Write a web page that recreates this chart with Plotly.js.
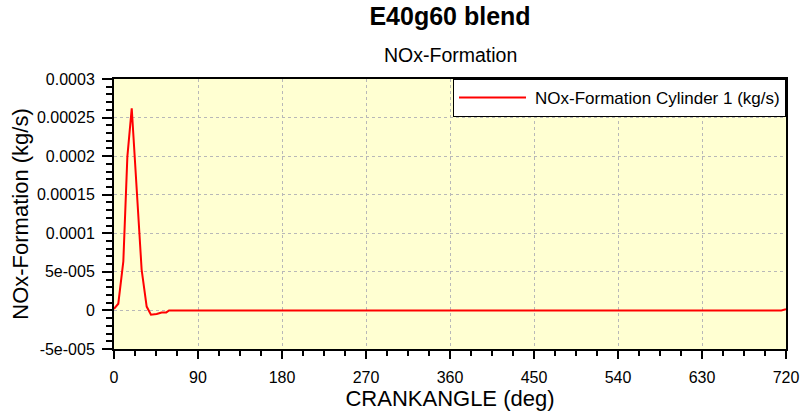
<!DOCTYPE html>
<html>
<head>
<meta charset="utf-8">
<script src="https://cdn.plot.ly/plotly-3.0.1.min.js"></script>
<style>html,body{margin:0;padding:0;background:#fff;}#chart{width:801px;height:415px;}</style>
</head>
<body>
<div id="chart"></div>
<script>
// Crank angle (deg) and NOx formation (kg/s)
var crankAngle = [0, 4.6, 10, 14.3, 19, 23.6, 29.6, 35, 39.6, 45.7, 51, 56, 59, 90, 180, 270, 360, 450, 540, 630, 715, 720];
var noxFormation = [0.2e-5, 0.87e-5, 6.35e-5, 19.9e-5, 26.2e-5, 16.5e-5, 5.3e-5, 0.5e-5, -0.55e-5, -0.47e-5, -0.26e-5, -0.26e-5, 0, 0, 0, 0, 0, 0, 0, 0, 0, 0.15e-5];
var seriesName = 'NOx-Formation Cylinder 1 (kg/s)';

var xTickVals = [0, 90, 180, 270, 360, 450, 540, 630, 720];
var xTickText = ['0', '90', '180', '270', '360', '450', '540', '630', '720'];
var yTickVals = [-5e-5, 0, 5e-5, 1e-4, 1.5e-4, 2e-4, 2.5e-4, 3e-4];
var yTickText = ['-5e-005', '0', '5e-005', '0.0001', '0.00015', '0.0002', '0.00025', '0.0003'];

var font = 'Liberation Sans, Arial, sans-serif';

var trace = {
  x: crankAngle,
  y: noxFormation,
  type: 'scatter',
  mode: 'lines',
  name: seriesName,
  line: {color: '#ff0000', width: 2},
  showlegend: true
};

var layout = {
  width: 801,
  height: 415,
  margin: {l: 114, r: 15, t: 79, b: 66},
  paper_bgcolor: '#ffffff',
  plot_bgcolor: '#ffffd2',
  font: {family: font, color: '#000'},
  title: {
    text: '<b>E40g60 blend</b>',
    font: {family: font, size: 25, color: '#000'},
    x: 0.5, xref: 'paper', xanchor: 'center',
    y: 1 - 16/415, yref: 'container', yanchor: 'middle'
  },
  annotations: [{
    text: 'NOx-Formation',
    xref: 'paper', yref: 'paper',
    x: 0.5, y: (349 - 55) / 270,
    xanchor: 'center', yanchor: 'middle',
    showarrow: false,
    font: {family: font, size: 19.5, color: '#000'}
  }],
  xaxis: {
    range: [0, 720],
    tickmode: 'array', tickvals: xTickVals, ticktext: xTickText,
    ticks: 'outside', ticklen: 8, tickwidth: 2, tickcolor: '#000',
    ticklabelstandoff: 5,
    tickfont: {family: font, size: 16, color: '#000'},
    showline: true, linecolor: '#000', linewidth: 2, mirror: true,
    showgrid: true, gridcolor: '#b8b8b8', griddash: 'dot', gridwidth: 1,
    zeroline: false,
    minor: {dtick: 22.5, ticks: 'outside', ticklen: 5, tickwidth: 2, tickcolor: '#000', showgrid: false},
    title: {text: 'CRANKANGLE (deg)', font: {family: font, size: 22, color: '#000'}, standoff: 2}
  },
  yaxis: {
    range: [-5e-5, 3e-4],
    tickmode: 'array', tickvals: yTickVals, ticktext: yTickText,
    ticks: 'outside', ticklen: 10, tickwidth: 2, tickcolor: '#000',
    ticklabelstandoff: 4,
    tickfont: {family: font, size: 16, color: '#000'},
    showline: true, linecolor: '#000', linewidth: 2, mirror: true,
    showgrid: true, gridcolor: '#b8b8b8', griddash: 'dot', gridwidth: 1,
    zeroline: false,
    minor: {dtick: 1e-5, ticks: 'outside', ticklen: 6, tickwidth: 2, tickcolor: '#000', showgrid: false},
    title: {text: 'NOx-Formation (kg/s)', font: {family: font, size: 22, color: '#000'}, standoff: 2}
  },
  legend: {
    x: 1, xanchor: 'right', y: 1, yanchor: 'top',
    bgcolor: '#ffffff', bordercolor: '#000', borderwidth: 1,
    font: {family: font, size: 17, color: '#000'},
    itemwidth: 71
  },
  showlegend: true
};

Plotly.newPlot('chart', [trace], layout, {displayModeBar: false, staticPlot: true}).then(function (gd) {
  // stretch the legend sample line to the reference's longer stroke
  var paths = gd.querySelectorAll('.legendlines path');
  paths.forEach(function (p) { p.setAttribute('d', 'M5,0h67'); });
});
</script>
</body>
</html>
